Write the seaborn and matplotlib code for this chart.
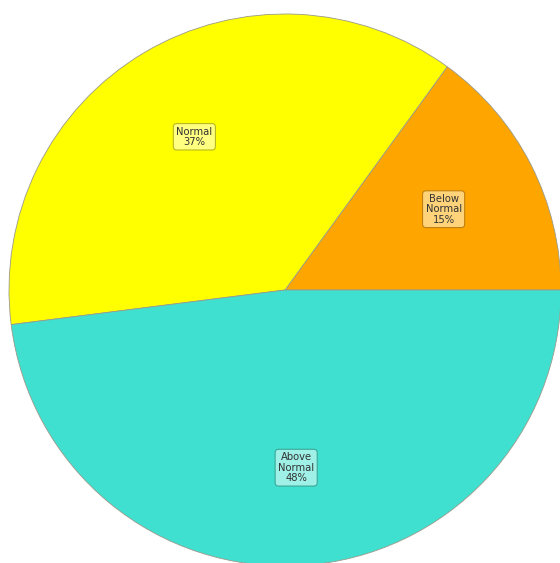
import matplotlib
matplotlib.use("Agg")
import matplotlib.pyplot as plt
import seaborn as sns

categories = ["Below Normal", "Normal", "Above Normal"]
values = [15, 37, 48]
label_text = ["Below\nNormal", "Normal", "Above\nNormal"]
colors = ["#FFA500", "#FFFF00", "#40E0D0"]
box_fill = ["#FFD37A", "#FFFF80", "#9FF0E6"]
box_edge = ["#C08010", "#B8B820", "#3AA898"]

sns.set_style("white")
plt.rcParams['font.family'] = ['DejaVu Sans']

fig = plt.figure(figsize=(5.6, 5.63), dpi=100)
ax = fig.add_axes([0, 0, 1, 1])

wedges, texts = ax.pie(values, colors=colors, startangle=0, counterclock=True,
                       labels=[f"{l}\n{v}%" for l, v in zip(label_text, values)],
                       labeldistance=0.645,
                       wedgeprops=dict(edgecolor="#9a9a8a", linewidth=0.6),
                       textprops=dict(fontsize=7.2, color="#333333",
                                      ha="center", va="center", linespacing=1.05))
for t, fc, ec in zip(texts, box_fill, box_edge):
    t.set_horizontalalignment("center")
    t.set_multialignment("center")
    t.set_bbox(dict(boxstyle="round,pad=0.3,rounding_size=0.35", fc=fc, ec=ec, lw=0.8))

R = 276.0
cx, cy = 285.0, 290.0
ax.set_xlim((0 - cx) / R, (560 - cx) / R)
ax.set_ylim((cy - 563) / R, cy / R)
ax.set_aspect("auto")
ax.axis("off")

fig.savefig("out.png", dpi=100, facecolor="white")
